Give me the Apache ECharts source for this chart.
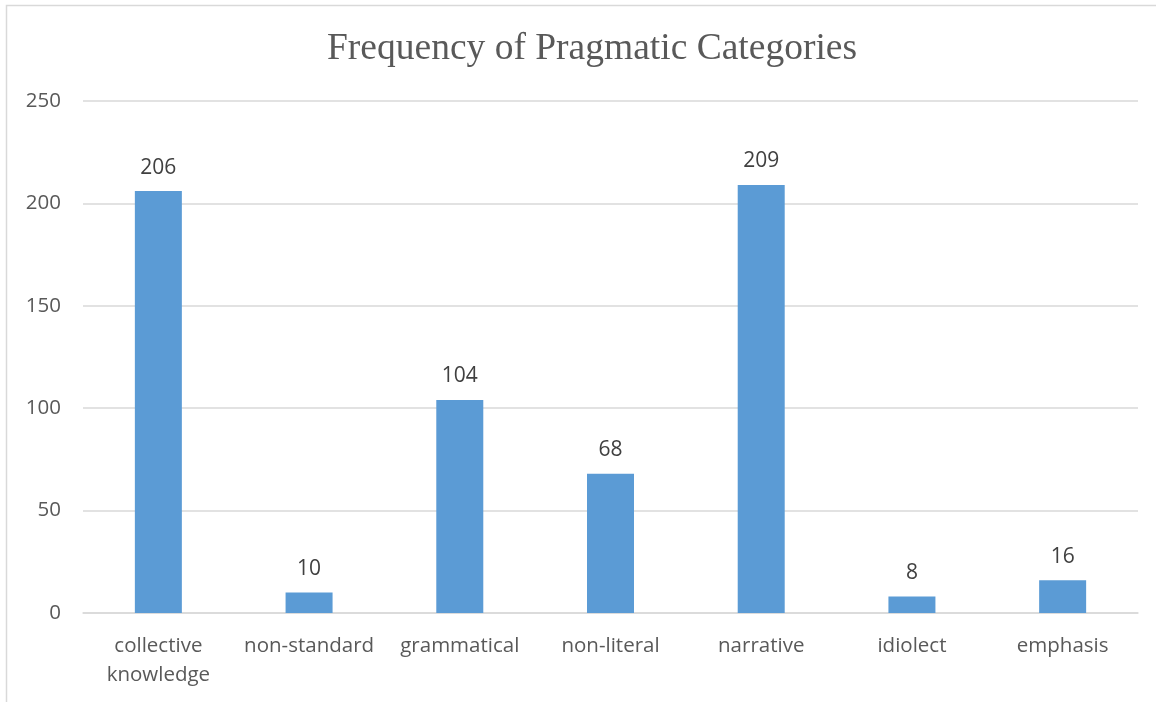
<!DOCTYPE html>
<html>
<head>
<meta charset="utf-8">
<script src="https://cdn.jsdelivr.net/npm/echarts@6/dist/echarts.min.js"></script>
<style>html,body{margin:0;padding:0;background:#fff;}#c{width:1156px;height:702px;}</style>
</head>
<body>
<div id="c"></div>
<script>
const categories = ['collective\nknowledge', 'non-standard', 'grammatical', 'non-literal', 'narrative', 'idiolect', 'emphasis'];
const values = [206, 10, 104, 68, 209, 8, 16];
const yTicks = [0, 50, 100, 150, 200, 250];

const chart = echarts.init(document.getElementById('c'));
chart.setOption({
  animation: false,
  backgroundColor: '#ffffff',
  title: {
    text: 'Frequency of Pragmatic Categories',
    left: 322, top: 25,
    textStyle: { fontFamily: 'Liberation Serif', fontSize: 37.5, fontWeight: 'normal', color: '#595959' }
  },
  graphic: [{
    type: 'rect', shape: { x: 6.5, y: 5.5, width: 1300, height: 800 },
    style: { fill: 'none', stroke: '#d9d9d9', lineWidth: 1.5 }, silent: true
  }],
  grid: { left: 83, right: 18, top: 101, bottom: 89, containLabel: false },
  xAxis: {
    type: 'category', data: categories,
    axisLine: { lineStyle: { color: '#d9d9d9', width: 1.5 } },
    axisTick: { show: false },
    axisLabel: { fontFamily: 'Open Sans', fontSize: 20.5, color: '#595959', margin: 19, lineHeight: 29, interval: 0 }
  },
  yAxis: {
    type: 'value', min: yTicks[0], max: yTicks[yTicks.length - 1], interval: 50,
    axisLine: { show: false }, axisTick: { show: false },
    splitLine: { lineStyle: { color: '#d9d9d9', width: 1.5 } },
    axisLabel: { fontFamily: 'Open Sans', fontSize: 20.5, color: '#595959', margin: 22 }
  },
  series: [{
    type: 'bar', data: values, barWidth: 47,
    itemStyle: { color: '#5b9bd5' },
    label: { show: true, position: 'top', distance: 13, fontFamily: 'Open Sans', fontSize: 21, color: '#404040' }
  }]
});
</script>
</body>
</html>
